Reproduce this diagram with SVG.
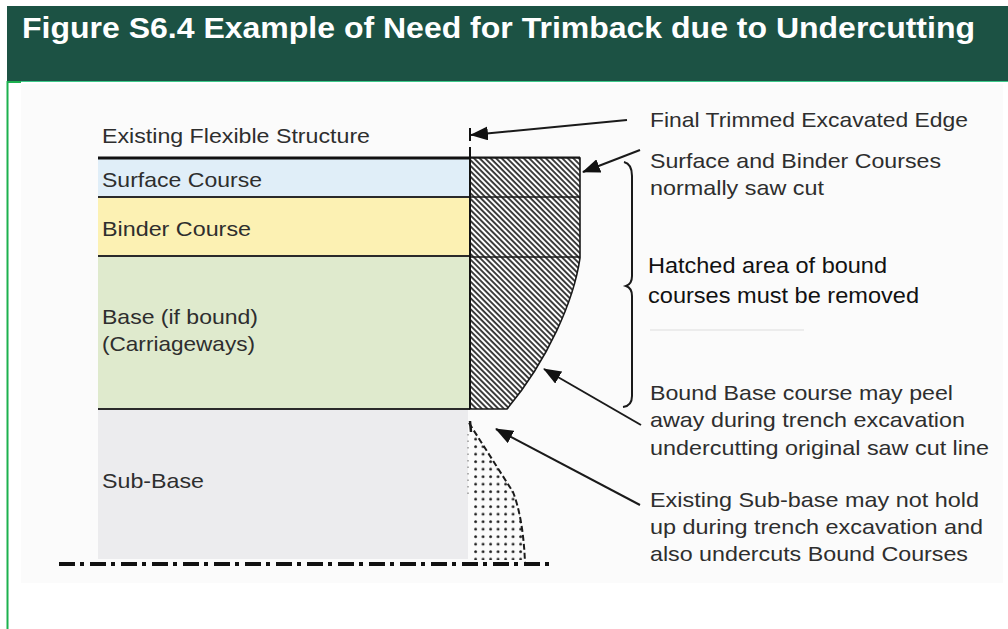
<svg xmlns="http://www.w3.org/2000/svg" width="1008" height="629" viewBox="0 0 1008 629">
<style>
.lbl{font-family:"Liberation Sans",Arial,sans-serif;font-size:21px;fill:#2e2e2e}
.lblk{font-family:"Liberation Sans",Arial,sans-serif;font-size:21.5px;fill:#111}
.ttl{font-family:"Liberation Sans",Arial,sans-serif;font-size:29.5px;font-weight:bold;fill:#ffffff}
.div{stroke:#2a2a2a;stroke-width:2}
.arr{stroke:#1a1a1a;stroke-width:2;fill:none}
</style>
<defs>
<pattern id="hatch" patternUnits="userSpaceOnUse" width="3.9" height="10" patternTransform="rotate(-45)">
<rect width="3.9" height="10" fill="#ffffff"/>
<line x1="1" y1="0" x2="1" y2="10" stroke="#111" stroke-width="1.6"/>
</pattern>
<pattern id="dots" patternUnits="userSpaceOnUse" x="474" y="430" width="7.5" height="7.5">
<circle cx="1.6" cy="1.6" r="1.45" fill="#222"/>
</pattern>
<clipPath id="dotclip">
<path d="M469,423 L513,492 C520,510 524,535 525,560 L472,560 L472,428 Z"/>
</clipPath>
<marker id="ah" markerUnits="userSpaceOnUse" markerWidth="18" markerHeight="14" refX="17" refY="7" orient="auto">
<path d="M0,0 L18,7 L0,14 Z" fill="#111"/>
</marker>
</defs>

<rect width="1008" height="629" fill="#ffffff"/>

<g id="header">
<rect x="7" y="6" width="1001" height="75" fill="#1c5244"/>
<line x1="7" y1="81.5" x2="1008" y2="81.5" stroke="#3cc98a" stroke-width="1"/>
<text class="ttl" x="22" y="37.5" textLength="953" lengthAdjust="spacingAndGlyphs">Figure S6.4 Example of Need for Trimback due to Undercutting</text>
</g>

<g id="frame">
<line x1="7.5" y1="81" x2="7.5" y2="629" stroke="#1cb14f" stroke-width="2"/>
<line x1="7" y1="82" x2="21" y2="82" stroke="#1cb14f" stroke-width="2"/>
<rect x="21" y="84" width="982" height="499" fill="#fbfbfb"/>
</g>

<g id="layer-surface">
<rect x="98" y="158" width="372" height="39" fill="#e0eef8"/>
<text class="lbl" x="102" y="187" textLength="160" lengthAdjust="spacingAndGlyphs">Surface Course</text>
</g>
<g id="layer-binder">
<rect x="98" y="197" width="372" height="59" fill="#fcf1b3"/>
<text class="lbl" x="102" y="236" textLength="149" lengthAdjust="spacingAndGlyphs">Binder Course</text>
</g>
<g id="layer-base">
<rect x="98" y="256" width="372" height="153" fill="#dfeacd"/>
<text class="lbl" x="102" y="324" textLength="156" lengthAdjust="spacingAndGlyphs">Base (if bound)</text>
<text class="lbl" x="102" y="351" textLength="153" lengthAdjust="spacingAndGlyphs">(Carriageways)</text>
</g>
<g id="layer-subbase">
<rect x="98" y="409" width="370" height="150" fill="#ececee"/>
<text class="lbl" x="102" y="488" textLength="102" lengthAdjust="spacingAndGlyphs">Sub-Base</text>
</g>

<g id="existing-structure">
<text class="lbl" x="102" y="143" textLength="268" lengthAdjust="spacingAndGlyphs">Existing Flexible Structure</text>
<line x1="98" y1="158" x2="580" y2="158" stroke="#111" stroke-width="3"/>
<line class="div" x1="98" y1="197" x2="470" y2="197"/>
<line class="div" x1="98" y1="256" x2="470" y2="256"/>
<line class="div" x1="98" y1="409" x2="470" y2="409"/>
</g>

<g id="hatched-area">
<path d="M470,158 L580,158 L580,258 C574,300 548,360 507,409 L470,409 Z" fill="url(#hatch)" stroke="#1a1a1a" stroke-width="1.6"/>
<line x1="470" y1="197" x2="580" y2="197" stroke="#1a1a1a" stroke-width="1.6"/>
<line x1="470" y1="257" x2="580" y2="257" stroke="#1a1a1a" stroke-width="1.6"/>
<line x1="470" y1="128" x2="470" y2="141" stroke="#111" stroke-width="2"/>
<line x1="470" y1="147" x2="470" y2="409" stroke="#111" stroke-width="2"/>
</g>

<g id="subbase-collapse">
<rect x="468" y="423" width="60" height="140" fill="url(#dots)" clip-path="url(#dotclip)"/>
<path d="M469,423 L513,492 C520,510 524,535 525,563" fill="none" stroke="#1a1a1a" stroke-width="2" stroke-dasharray="6 3"/>
<line x1="470" y1="421" x2="471" y2="432" stroke="#1a1a1a" stroke-width="2.5"/>
<line x1="468" y1="434" x2="468" y2="494" stroke="#999" stroke-width="1.5" stroke-dasharray="1.5 5"/>
</g>

<g id="ground-line">
<line x1="59" y1="564" x2="550" y2="564" stroke="#111" stroke-width="4" stroke-dasharray="16 5 4 6"/>
</g>

<g id="connectors">
<line class="arr" x1="627" y1="120" x2="471" y2="135" marker-end="url(#ah)"/>
<line class="arr" x1="640" y1="150" x2="583" y2="172" marker-end="url(#ah)"/>
<line class="arr" x1="641" y1="425" x2="544" y2="369" marker-end="url(#ah)"/>
<line class="arr" x1="640" y1="505" x2="496" y2="429" marker-end="url(#ah)"/>
<path class="arr" d="M624,162 Q632,164 632,176 L632,276 Q632,284 626,286 Q632,288 632,296 L632,396 Q632,406 623,407"/>
</g>

<g id="notes">
<text class="lbl" x="650" y="127" textLength="318" lengthAdjust="spacingAndGlyphs">Final Trimmed Excavated Edge</text>
<text class="lbl" x="650" y="168" textLength="291" lengthAdjust="spacingAndGlyphs">Surface and Binder Courses</text>
<text class="lbl" x="650" y="195" textLength="174" lengthAdjust="spacingAndGlyphs">normally saw cut</text>
<text class="lblk" x="648" y="273" textLength="239" lengthAdjust="spacingAndGlyphs">Hatched area of bound</text>
<text class="lblk" x="648" y="303" textLength="271" lengthAdjust="spacingAndGlyphs">courses must be removed</text>
<line x1="650" y1="330" x2="804" y2="330" stroke="#ececec" stroke-width="2"/>
<text class="lbl" x="650" y="400" textLength="303" lengthAdjust="spacingAndGlyphs">Bound Base course may peel</text>
<text class="lbl" x="650" y="427" textLength="315" lengthAdjust="spacingAndGlyphs">away during trench excavation</text>
<text class="lbl" x="650" y="455" textLength="339" lengthAdjust="spacingAndGlyphs">undercutting original saw cut line</text>
<text class="lbl" x="650" y="507" textLength="329" lengthAdjust="spacingAndGlyphs">Existing Sub-base may not hold</text>
<text class="lbl" x="650" y="534" textLength="333" lengthAdjust="spacingAndGlyphs">up during trench excavation and</text>
<text class="lbl" x="650" y="561" textLength="318" lengthAdjust="spacingAndGlyphs">also undercuts Bound Courses</text>
</g>
</svg>
